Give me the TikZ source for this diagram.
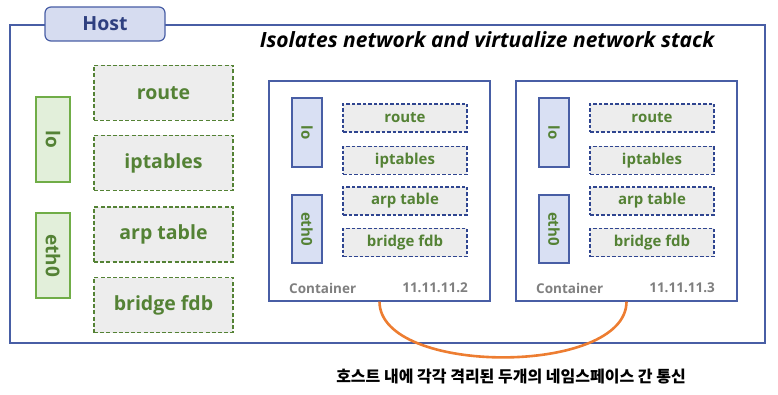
\documentclass[tikz,border=0pt]{standalone}
\usepackage{fontspec}
\setmainfont{Open Sans}
\newfontfamily\krfont{Noto Sans CJK KR}
\definecolor{hostblue}{RGB}{72,94,165}
\definecolor{tabfill}{RGB}{214,220,240}
\definecolor{tabtext}{RGB}{47,64,128}
\definecolor{ifblue}{RGB}{217,224,243}
\definecolor{dashblue}{RGB}{47,69,144}
\definecolor{leafgreen}{RGB}{84,130,53}
\definecolor{ifgreen}{RGB}{226,239,218}
\definecolor{ifgreenline}{RGB}{112,173,71}
\definecolor{boxgray}{RGB}{237,237,237}
\definecolor{labelgray}{RGB}{127,127,127}
\definecolor{linkorange}{RGB}{237,125,49}
\begin{document}
\begin{tikzpicture}[x=1pt,y=-1pt,inner sep=0pt,
    hostif/.style={draw=ifgreenline,fill=ifgreen,line width=1.2pt,
      minimum width=34pt,minimum height=85pt,text=leafgreen,
      font=\fontsize{19}{21}\selectfont\bfseries},
    hosttable/.style={draw=leafgreen,fill=boxgray,line width=1.9pt,
      dash pattern=on 4pt off 2.2pt,minimum width=139pt,minimum height=55pt,
      text=leafgreen,font=\fontsize{19.5}{21}\selectfont\bfseries},
    nsif/.style={draw=hostblue,fill=ifblue,line width=1.2pt,
      minimum width=30pt,text=leafgreen,
      font=\fontsize{15}{17}\selectfont\bfseries},
    nstable/.style={draw=dashblue,fill=boxgray,line width=1.7pt,
      dash pattern=on 3.5pt off 2pt,minimum width=124pt,minimum height=28pt,
      text=leafgreen,font=\fontsize{15}{17}\selectfont\bfseries},
    nsbox/.style={draw=hostblue,line width=1.2pt,
      minimum width=221pt,minimum height=220pt},
    nslabel/.style={text=labelgray,font=\fontsize{13.5}{15}\selectfont\bfseries}]
    \path[use as bounding box] (0,0) rectangle (778,395);
    % host frame and tab
    \draw[hostblue,line width=1.4pt] (10,25) rectangle (765,343);
    \node[draw=hostblue,fill=tabfill,line width=1.2pt,rounded corners=6pt,
      minimum width=120pt,minimum height=34pt,text=tabtext,
      font=\fontsize{19.5}{21}\selectfont\bfseries] (tab) at (105,24) {Host};
    \node[font=\fontsize{21}{23}\selectfont\bfseries\itshape] (title)
      at (487,40) {Isolates network and virtualize network stack};
    % host stack
    \node[hostif] (hlo) at (53,139.5) {\rotatebox{-90}{lo}};
    \node[hostif] (heth) at (53,255.5) {\rotatebox{-90}{eth0}};
    \node[hosttable] (hroute) at (163.5,93) {route};
    \node[hosttable] (hipt) at (163.5,163) {iptables};
    \node[hosttable] (harp) at (163.5,234.5) {arp table};
    \node[hosttable] (hfdb) at (163.5,305) {bridge fdb};
    % two containers
    \foreach \i/\dx/\ip in {a/0/11.11.11.2,b/247/11.11.11.3} {
      \node[nsbox] (c\i) at (379.5+\dx,191) {};
      \node[nsif,minimum height=69pt] (c\i-lo) at (307+\dx,132.5)
        {\rotatebox{-90}{lo}};
      \node[nsif,minimum height=68pt] (c\i-eth) at (307+\dx,229)
        {\rotatebox{-90}{eth0}};
      \node[nstable] (c\i-route) at (405+\dx,118) {route};
      \node[nstable] (c\i-ipt) at (405+\dx,160.5) {iptables};
      \node[nstable] (c\i-arp) at (405+\dx,201) {arp table};
      \node[nstable] (c\i-fdb) at (405+\dx,242.5) {bridge fdb};
      \node[nslabel,anchor=west] (c\i-name) at (289+\dx,288) {Container};
      \node[nslabel,anchor=east] (c\i-ip) at (468+\dx,288) {\ip};
    }
    % link between namespaces
    \draw[linkorange,line width=2.6pt] (ca.south)
      .. controls (379.5,376) and (626.5,376) .. (cb.south);
    \node[font=\krfont\fontsize{16}{18}\selectfont\bfseries] (note)
      at (511,377) {호스트 내에 각각 격리된 두개의 네임스페이스 간 통신};
  \end{tikzpicture}
\end{document}
